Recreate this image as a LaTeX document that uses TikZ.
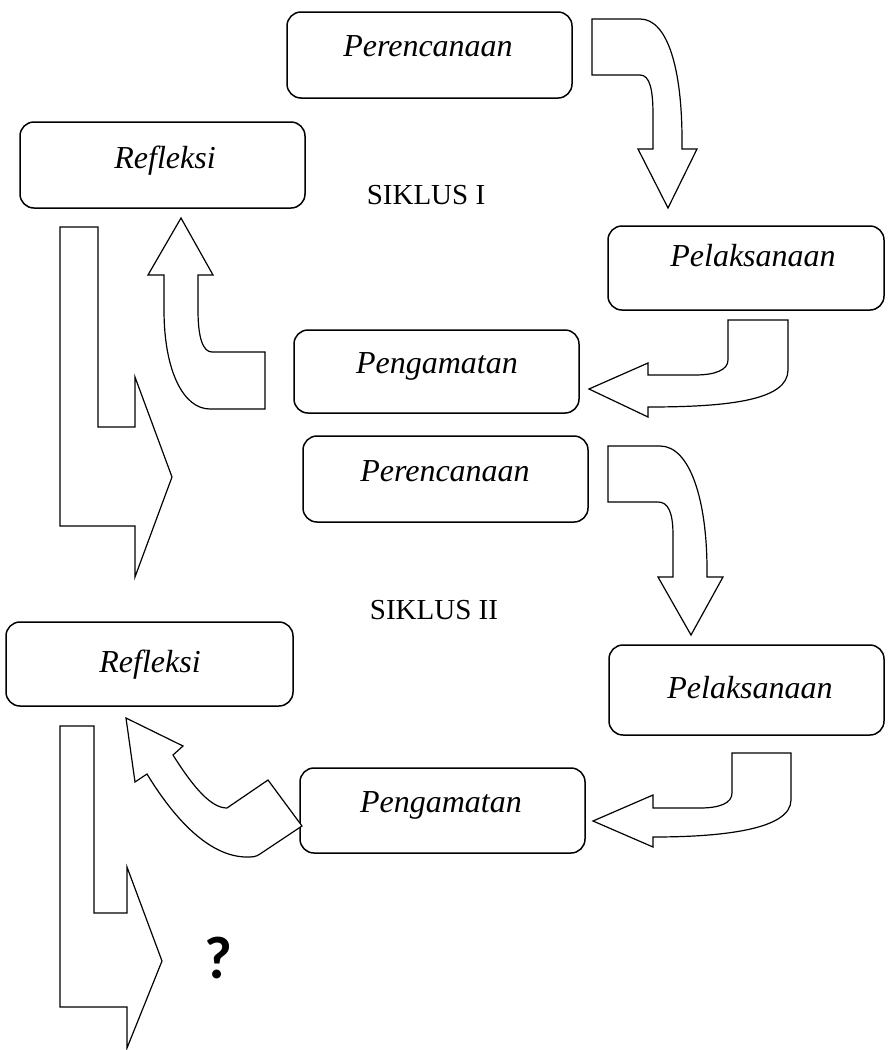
\documentclass[tikz,border=0pt]{standalone}
\usepackage{fontspec}
\setmainfont{Liberation Serif}
\newfontfamily\qfont{Carlito}
\begin{document}
\begin{tikzpicture}[x=1pt,y=-1pt,
  box/.style={draw, line width=1.5pt, rounded corners=14pt, inner sep=0pt},
  lbl/.style={font=\fontsize{32}{38}\selectfont\itshape, inner sep=0pt, anchor=base},
  cyc/.style={font=\fontsize{29}{35}\selectfont, inner sep=0pt, anchor=base},
  blk/.style={draw, line width=1.2pt, line join=miter, fill=white}]
\useasboundingbox (0,0) rectangle (887,1050);
% boxes
\node[box, minimum width=285pt, minimum height=86pt] (p1) at (429.5,55) {};
\node[box, minimum width=285pt, minimum height=86pt] (r1) at (162.5,165) {};
\node[box, minimum width=276pt, minimum height=84pt] (l1) at (746,268) {};
\node[box, minimum width=285pt, minimum height=83pt] (g1) at (436.5,371.5) {};
\node[box, minimum width=285pt, minimum height=86pt] (p2) at (445.5,479) {};
\node[box, minimum width=287pt, minimum height=84pt] (r2) at (149.5,664) {};
\node[box, minimum width=275pt, minimum height=90pt] (l2) at (746.5,690) {};
\node[box, minimum width=285pt, minimum height=85pt] (g2) at (442.5,810.5) {};
% labels
\node[lbl] (tp1) at (428,56) {Perencanaan};
\node[lbl] (tr1) at (165,168) {Refleksi};
\node[lbl] (tl1) at (753,266) {Pelaksanaan};
\node[lbl] (tg1) at (437,373) {Pengamatan};
\node[lbl] (tp2) at (445,481) {Perencanaan};
\node[lbl] (tr2) at (150,672) {Refleksi};
\node[lbl] (tl2) at (750,698) {Pelaksanaan};
\node[lbl] (tg2) at (441,812) {Pengamatan};
\node[cyc] (s1) at (426,204) {SIKLUS I};
\node[cyc] (s2) at (434,619) {SIKLUS II};
\node[font=\qfont\bfseries\fontsize{60}{66}\selectfont, inner sep=0pt] (q) at (218,958) {?};
% block arrows
% 1: Perencanaan -> Pelaksanaan
\draw[blk] (592,19) -- (640,19) .. controls (668,19) and (682,70) .. (682,140) -- (682,149)
  -- (697,149) -- (668,208) -- (638,149) -- (653,149) -- (653,115)
  .. controls (653,90) and (650,75) .. (640,75) -- (592,75) -- cycle;
% 2: Pengamatan -> Refleksi (up)
\draw[blk] (181,218) -- (213,275) -- (198,275) -- (198,310)
  .. controls (198,338) and (203,352) .. (212,352) -- (265,352) -- (265,409) -- (210,409)
  .. controls (183,409) and (164,370) .. (164,310) -- (164,275) -- (148,275) -- cycle;
% 3: big L arrow
\draw[blk] (60,227) -- (98,227) -- (98,427) -- (135,427) -- (135,377) -- (172,477)
  -- (135,577) -- (135,526) -- (60,526) -- cycle;
% 4: Pelaksanaan -> Pengamatan
\draw[blk] (728,320) -- (788,320) -- (788,370) .. controls (788,400) and (730,407) .. (648,407)
  -- (648,417) -- (589,389) -- (648,363) -- (648,375) -- (695,375)
  .. controls (715,375) and (728,370) .. (728,360) -- cycle;
% 5: Perencanaan 2 -> Pelaksanaan 2
\draw[blk] (608,446) -- (660,446) .. controls (690,446) and (707,500) .. (707,570) -- (707,577)
  -- (723,577) -- (691,635) -- (658,577) -- (673,577) -- (673,535)
  .. controls (673,512) and (668,502) .. (658,502) -- (608,502) -- cycle;
% 6: Pengamatan 2 -> Refleksi 2
\draw[blk] (126,718) -- (183,746) -- (173,755) .. controls (195,790) and (212,808) .. (227,808)
  -- (268,780) -- (302,826) -- (260,854) .. controls (256,857) and (252,857) .. (247,857)
  .. controls (210,857) and (175,820) .. (147,774) -- (135,782) -- cycle;
% 7: Pelaksanaan 2 -> Pengamatan 2
\draw[blk] (732,753) -- (791,753) -- (791,800) .. controls (791,830) and (720,837) .. (653,837)
  -- (653,847) -- (593,821) -- (653,795) -- (653,808) -- (700,808)
  .. controls (720,808) and (732,803) .. (732,793) -- cycle;
% 8: bottom L arrow
\draw[blk] (60,726) -- (94,726) -- (94,913) -- (127,913) -- (127,867) -- (162,961)
  -- (127,1048) -- (127,1007) -- (60,1007) -- cycle;
\end{tikzpicture}
\end{document}
